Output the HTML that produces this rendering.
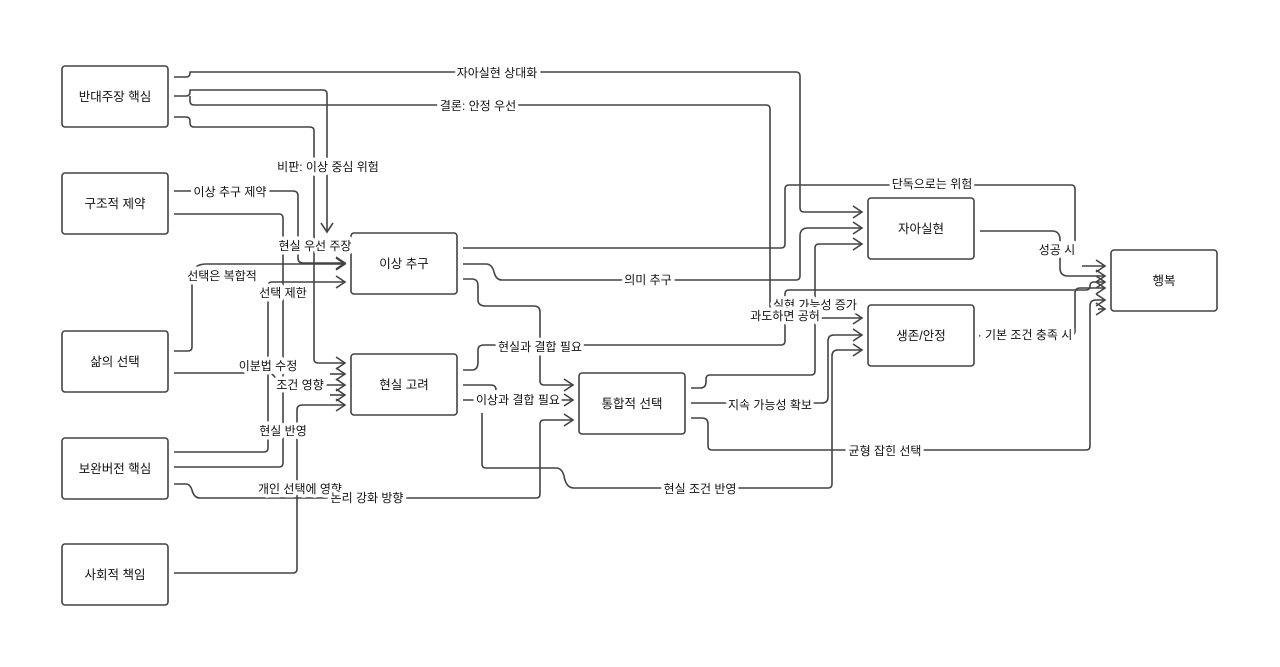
<!DOCTYPE html>
<html><head><meta charset="utf-8"><style>
html,body{margin:0;padding:0;background:#fff;}
svg{display:block;font-family:"Liberation Sans","Noto Sans CJK KR",sans-serif;}
.e{fill:none;stroke:#444;stroke-width:1.6;stroke-linejoin:round;}
.n{fill:#fff;stroke:#444;stroke-width:1.6;}
.t{font-size:12.5px;fill:#111;text-anchor:middle;dominant-baseline:central;}
.l{font-size:12px;fill:#111;text-anchor:middle;dominant-baseline:central;paint-order:stroke;stroke:#fff;stroke-width:7px;stroke-linejoin:round;}
</style></head><body>
<svg width="1280" height="667" viewBox="0 0 1280 667">
<defs><marker id="a" markerWidth="12" markerHeight="14" refX="10" refY="7" orient="auto" markerUnits="userSpaceOnUse"><path d="M1,1 L10,7 L1,13" fill="none" stroke="#444" stroke-width="1.6"/></marker></defs>
<g class="e">
<path d="M174,77 H186 Q190,77 190,73 V72 H796 Q800,72 800,76 V208 Q800,212 804,212 H862" marker-end="url(#a)"/>
<path d="M174,96 H186 Q190,96 190,92 V90 H323 Q327,90 327,94 V232" marker-end="url(#a)"/>
<path d="M190,96 V101 Q190,105 194,105 H766 Q770,105 770,109 V314 Q770,318 774,318 H862" marker-end="url(#a)"/>
<path d="M174,117 H186 Q190,117 190,121 V123 Q190,127 194,127 H310 Q314,127 314,131 V359 Q314,363 318,363 H345" marker-end="url(#a)"/>
<path d="M174,191 H293 Q298,191 298,196 V258 Q298,263 303,263 H345" marker-end="url(#a)"/>
<path d="M174,214 H279 Q283,214 283,218 V463 Q283,467 279,467 H174"/>
<path d="M174,351 H188 Q192,351 192,347 V278 Q192,264 206,264 H345" marker-end="url(#a)"/>
<path d="M174,373 H268 Q273,373 276,379 Q279,385 286,385 H345" marker-end="url(#a)"/>
<path d="M330,374 H345" marker-end="url(#a)"/>
<path d="M330,395 H345" marker-end="url(#a)"/>
<path d="M174,452 H264 Q268,452 268,448 V286 Q268,282 272,282 H345" marker-end="url(#a)"/>
<path d="M174,484 H186 Q190,484 192,490 Q194,498 200,498 H536 Q540,498 540,494 V424 Q540,420 544,420 H573" marker-end="url(#a)"/>
<path d="M174,573 H293 Q297,573 297,569 V410 Q297,405 302,405 H345" marker-end="url(#a)"/>
<path d="M463,248 H781 Q785,248 785,244 V189 Q785,185 789,185 H1071 Q1075,185 1075,189 V255"/>
<path d="M1082,266 H1105" marker-end="url(#a)"/>
<path d="M463,264 H486 Q492,264 494,272 Q496,280 502,280 H796 Q800,280 800,276 V236 Q800,228 808,228 H862" marker-end="url(#a)"/>
<path d="M463,279 H472 Q478,279 478,286 V300 Q478,306 486,306 H534 Q540,306 540,312 V381 Q540,385 544,385 H573" marker-end="url(#a)"/>
<path d="M463,370 H472 Q478,370 478,362 V350 Q478,345 484,345 H781 Q785,345 785,341 V294 Q785,290 789,290 H1086 Q1090,290 1090,286 Q1090,282 1094,282 H1105" marker-end="url(#a)"/>
<path d="M463,385 H491 Q496,385 496,390"/>
<path d="M463,400 H573" marker-end="url(#a)"/>
<path d="M482,413 V464 Q482,468 486,468 H556 Q562,468 564,476 Q566,488 574,488 H828 Q832,488 832,484 V356 Q832,350 838,350 H862" marker-end="url(#a)"/>
<path d="M691,388 H700 Q706,388 706,382 V379 Q706,375 710,375 H811 Q815,375 815,371 V248 Q815,244 819,244 H862" marker-end="url(#a)"/>
<path d="M691,403 H822 Q828,403 828,397 V341 Q828,335 834,335 H862" marker-end="url(#a)"/>
<path d="M691,418 H702 Q708,418 708,424 V446 Q708,450 712,450 H1086 Q1090,450 1090,446 V306 Q1090,300 1096,300 H1105" marker-end="url(#a)"/>
<path d="M980,231 H1052 Q1060,231 1060,240 V268 Q1060,276 1068,276 H1105" marker-end="url(#a)"/>
<path d="M980,335 H1071 Q1075,335 1075,331 V293 Q1075,288 1080,288 H1105" marker-end="url(#a)"/>
<path d="M1098,309 H1105" marker-end="url(#a)"/>
</g>
<g>
<rect class="n" x="62" y="66" width="106" height="61" rx="3"/>
<rect class="n" x="62" y="173" width="106" height="61" rx="3"/>
<rect class="n" x="62" y="331" width="106" height="61" rx="3"/>
<rect class="n" x="62" y="438" width="106" height="61" rx="3"/>
<rect class="n" x="62" y="544" width="106" height="61" rx="3"/>
<rect class="n" x="351" y="233" width="106" height="61" rx="3"/>
<rect class="n" x="351" y="354" width="106" height="61" rx="3"/>
<rect class="n" x="579" y="373" width="106" height="61" rx="3"/>
<rect class="n" x="868" y="198" width="106" height="61" rx="3"/>
<rect class="n" x="868" y="305" width="106" height="61" rx="3"/>
<rect class="n" x="1111" y="250" width="106" height="61" rx="3"/>
</g>
<g class="t">
<text x="115" y="97">반대주장 핵심</text>
<text x="115" y="204">구조적 제약</text>
<text x="115" y="362">삶의 선택</text>
<text x="115" y="469">보완버전 핵심</text>
<text x="115" y="575">사회적 책임</text>
<text x="404" y="264">이상 추구</text>
<text x="404" y="385">현실 고려</text>
<text x="632" y="404">통합적 선택</text>
<text x="921" y="229">자아실현</text>
<text x="921" y="336">생존/안정</text>
<text x="1164" y="281">행복</text>
</g>
<g class="l">
<text x="497" y="73">자아실현 상대화</text>
<text x="478" y="106">결론: 안정 우선</text>
<text x="328" y="167">비판: 이상 중심 위험</text>
<text x="230" y="192">이상 추구 제약</text>
<text x="315" y="246">현실 우선 주장</text>
<text x="222" y="276">선택은 복합적</text>
<text x="283" y="293">선택 제한</text>
<text x="268" y="366">이분법 수정</text>
<text x="300" y="385">조건 영향</text>
<text x="283" y="431">현실 반영</text>
<text x="300" y="489">개인 선택에 영향</text>
<text x="367" y="498">논리 강화 방향</text>
<text x="648" y="280">의미 추구</text>
<text x="932" y="184">단독으로는 위험</text>
<text x="540" y="347">현실과 결합 필요</text>
<text x="518" y="400">이상과 결합 필요</text>
<text x="815" y="305">실현 가능성 증가</text>
<text x="785" y="316">과도하면 공허</text>
<text x="770" y="405">지속 가능성 확보</text>
<text x="885" y="451">균형 잡힌 선택</text>
<text x="700" y="489">현실 조건 반영</text>
<text x="1057" y="250">성공 시</text>
<text x="1025" y="335">· 기본 조건 충족 시</text>
</g>
</svg>
</body></html>
